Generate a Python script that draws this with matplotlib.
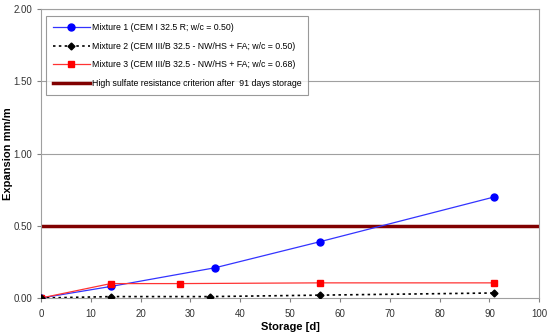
import matplotlib
matplotlib.use("Agg")
import matplotlib.pyplot as plt

plt.rcParams['font.family'] = ['Liberation Sans', 'DejaVu Sans']

days1 = [0, 14, 35, 56, 91]
mix1 = [0.0, 0.08, 0.21, 0.39, 0.70]
days2 = [0, 14, 34, 56, 91]
mix2 = [0.0, 0.01, 0.01, 0.02, 0.035]
days3 = [0, 14, 28, 56, 91]
mix3 = [0.0, 0.10, 0.10, 0.105, 0.105]
criterion = 0.5

labels = [
    "Mixture 1 (CEM I 32.5 R; w/c = 0.50)",
    "Mixture 2 (CEM III/B 32.5 - NW/HS + FA; w/c = 0.50)",
    "Mixture 3 (CEM III/B 32.5 - NW/HS + FA; w/c = 0.68)",
    "High sulfate resistance criterion after  91 days storage",
]

fig = plt.figure(figsize=(5.5, 3.36), dpi=100)
ax = fig.add_axes([0.0745, 0.113, 0.906, 0.86])

for y in [0.5, 1.0, 1.5, 2.0]:
    ax.axhline(y, color='#a0a0a0', lw=0.8, zorder=0)

ax.plot(days1, mix1, color='#3333ff', lw=0.9, marker='o', ms=5,
        mfc='blue', mec='blue', label=labels[0], zorder=3)
ax.plot(days2, mix2, color='black', lw=1.2, ls=(0, (1.5, 2)), marker='D', ms=3.5,
        mfc='black', mec='black', label=labels[1], zorder=4)
ax.plot(days3, mix3, color='#ff3333', lw=0.9, marker='s', ms=5,
        mfc='red', mec='red', label=labels[2], zorder=3)
ax.axhline(criterion, color='#800000', lw=2.5, label=labels[3], zorder=2)

ax.set_xlim(0, 100)
ax.set_ylim(0, 2.0)
ax.set_xticks(range(0, 101, 10))
ax.set_yticks([0, 0.5, 1.0, 1.5, 2.0])
ax.set_yticklabels(["0.00", "0.50", "1.00", "1.50", "2.00"])
ax.tick_params(labelsize=7, color='#808080', length=3, labelcolor='#333333')
ax.tick_params(axis='x', pad=5)

for s in ax.spines.values():
    s.set_color('#a0a0a0')
    s.set_linewidth(0.8)

ax.set_xlabel("Storage [d]", fontsize=8, fontweight='bold')
ax.set_ylabel("Expansion mm/m", fontsize=8, fontweight='bold')
ax.xaxis.set_label_coords(0.5, -0.083)
ax.yaxis.set_label_coords(-0.056, 0.5)

leg = ax.legend(loc='upper left', bbox_to_anchor=(0.005, 0.985), fontsize=6.3,
                frameon=True, fancybox=False, edgecolor='#808080',
                handlelength=4.2, borderpad=0.8, labelspacing=1.1,
                handletextpad=0.2, borderaxespad=0.3)
leg.get_frame().set_linewidth(0.8)

fig.savefig("out.png", dpi=100)
